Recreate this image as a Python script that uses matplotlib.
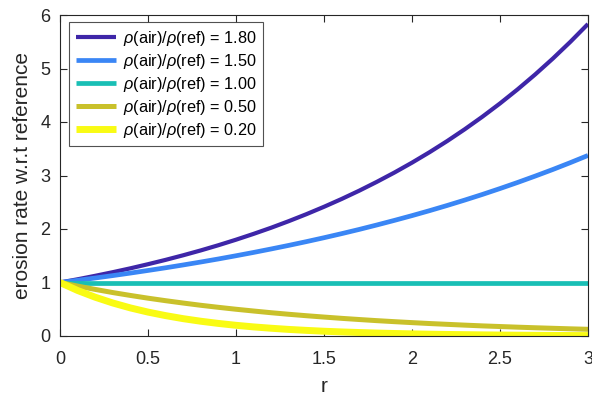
import matplotlib
matplotlib.use("Agg")
import matplotlib.pyplot as plt

plt.rcParams['font.family'] = ['Liberation Sans', 'DejaVu Sans']
plt.rcParams['mathtext.fontset'] = 'custom'
plt.rcParams['mathtext.it'] = 'Liberation Sans:italic'

r = [0.0, 0.1, 0.2, 0.3, 0.4, 0.5, 0.6, 0.7, 0.8, 0.9, 1.0,
     1.1, 1.2, 1.3, 1.4, 1.5, 1.6, 1.7, 1.8, 1.9, 2.0,
     2.1, 2.2, 2.3, 2.4, 2.5, 2.6, 2.7, 2.8, 2.9, 3.0]
ratios = ["1.80", "1.50", "1.00", "0.50", "0.20"]
y_180 = [1.000, 1.060, 1.125, 1.193, 1.265, 1.342, 1.423, 1.509, 1.600, 1.697, 1.800,
         1.909, 2.024, 2.147, 2.277, 2.415, 2.561, 2.716, 2.881, 3.055, 3.240,
         3.436, 3.644, 3.865, 4.099, 4.347, 4.610, 4.889, 5.185, 5.499, 5.832]
y_150 = [1.000, 1.041, 1.084, 1.129, 1.176, 1.225, 1.275, 1.328, 1.383, 1.440, 1.500,
         1.562, 1.627, 1.694, 1.764, 1.837, 1.913, 1.992, 2.075, 2.161, 2.250,
         2.343, 2.440, 2.541, 2.646, 2.756, 2.870, 2.989, 3.112, 3.241, 3.375]
y_100 = [1.0] * 31
y_050 = [1.000, 0.933, 0.871, 0.812, 0.758, 0.707, 0.660, 0.616, 0.574, 0.536, 0.500,
         0.467, 0.435, 0.406, 0.379, 0.354, 0.330, 0.308, 0.287, 0.268, 0.250,
         0.233, 0.218, 0.203, 0.189, 0.177, 0.165, 0.154, 0.144, 0.134, 0.125]
y_020 = [1.000, 0.851, 0.725, 0.617, 0.525, 0.447, 0.381, 0.324, 0.276, 0.235, 0.200,
         0.170, 0.145, 0.123, 0.105, 0.089, 0.076, 0.065, 0.055, 0.047, 0.040,
         0.034, 0.029, 0.025, 0.021, 0.018, 0.015, 0.013, 0.011, 0.009, 0.008]
series = [y_180, y_150, y_100, y_050, y_020]
colors = ['#3e26a8', '#3a86f5', '#19bfb5', '#c9c12b', '#f9fb14']
widths = [3.0, 3.4, 3.4, 3.6, 5.0]

fig = plt.figure(figsize=(5.92, 3.99), dpi=100)
ax = fig.add_axes([60/592, 1-336/399, 528/592, 321/399])
for ys, c, w, lab in zip(series, colors, widths, ratios):
    ax.plot(r, ys, color=c, lw=w, label=r'$\rho$(air)/$\rho$(ref) = ' + lab,
            solid_capstyle='butt')

ax.set_xlim(0, 3)
ax.set_ylim(0, 6)
ax.set_xticks([0, 0.5, 1, 1.5, 2, 2.5, 3])
ax.set_xticklabels(['0', '0.5', '1', '1.5', '2', '2.5', '3'])
ax.set_yticks(range(7))
ax.tick_params(direction='in', top=True, right=True, length=5, width=0.8,
               labelsize=13, colors='#262626')
ax.tick_params(axis='x', pad=10.5)
ax.tick_params(axis='y', pad=7)
for s in ax.spines.values():
    s.set_color('#262626')
    s.set_linewidth(0.8)
ax.set_xlabel('r', fontsize=15, color='#262626', labelpad=7)
ax.set_ylabel('erosion rate w.r.t reference', fontsize=15, color='#262626', labelpad=6)
leg = ax.legend(loc='upper left', bbox_to_anchor=(9/528, 1 - 7/321),
                fontsize=11.7, frameon=True, fancybox=False,
                edgecolor='#262626', handlelength=2.5, borderaxespad=0,
                labelspacing=0.25, handletextpad=0.4, borderpad=0.4)
leg.get_frame().set_linewidth(0.8)
fig.savefig('out.png', dpi=100)
